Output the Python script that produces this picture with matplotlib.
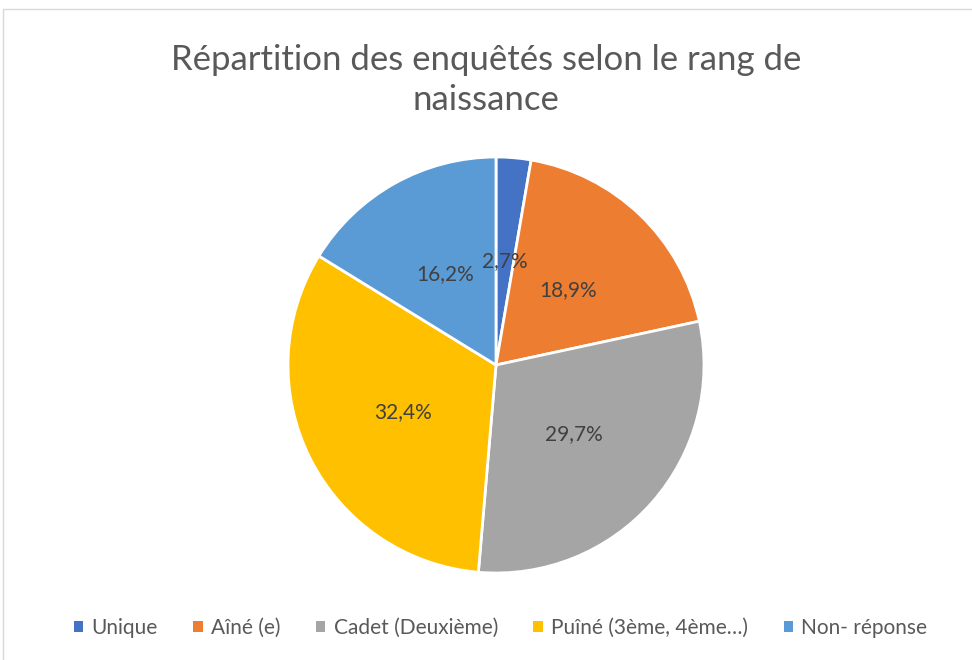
import matplotlib.pyplot as plt
from matplotlib.patches import Patch, Rectangle

# Répartition des enquêtés selon le rang de naissance
categories = ["Unique", "Aîné (e)", "Cadet (Deuxième)", "Puîné (3ème, 4ème…)", "Non- réponse"]
percents = [2.7, 18.9, 29.7, 32.4, 16.2]
labels = ["2,7%", "18,9%", "29,7%", "32,4%", "16,2%"]
colors = ["#4472C4", "#ED7D31", "#A5A5A5", "#FFC000", "#5B9BD5"]

plt.rcParams['font.family'] = ['Lato', 'DejaVu Sans']

fig = plt.figure(figsize=(9.72, 6.6), dpi=100)

# cadre gris clair du graphique
fig.patches.append(Rectangle((3 / 972, -0.01), 1.0, 1 - 9 / 660 + 0.01, transform=fig.transFigure,
                             fill=False, edgecolor="#D9D9D9", linewidth=1))

fig.text(0.5, 1 - 80 / 660, "Répartition des enquêtés selon le rang de\nnaissance",
         ha="center", va="center", fontsize=25, color="#595959", linespacing=1.3)

cx, cy, r = 496, 365, 208
ax = fig.add_axes([(cx - r) / 972, (660 - cy - r) / 660, 2 * r / 972, 2 * r / 660])
wedges, texts = ax.pie(percents, colors=colors, startangle=90, counterclock=False,
                       labels=labels, labeldistance=0.5,
                       wedgeprops=dict(edgecolor="white", linewidth=2))
for t in texts:
    t.set_ha("center")
    t.set_va("center")
    t.set_fontsize(15)
    t.set_color("#404040")
ax.set_xlim(-1, 1)
ax.set_ylim(-1, 1)
ax.set_aspect("equal")

handles = [Patch(facecolor=c, edgecolor="none") for c in colors]
fig.legend(handles, categories, loc="center", bbox_to_anchor=(0.515, 1 - 628 / 660), ncol=5,
           frameon=False, fontsize=15, handlelength=0.45, handleheight=0.45, handletextpad=0.4,
           columnspacing=1.7, labelcolor="#595959")

fig.savefig("out.png", dpi=100)
